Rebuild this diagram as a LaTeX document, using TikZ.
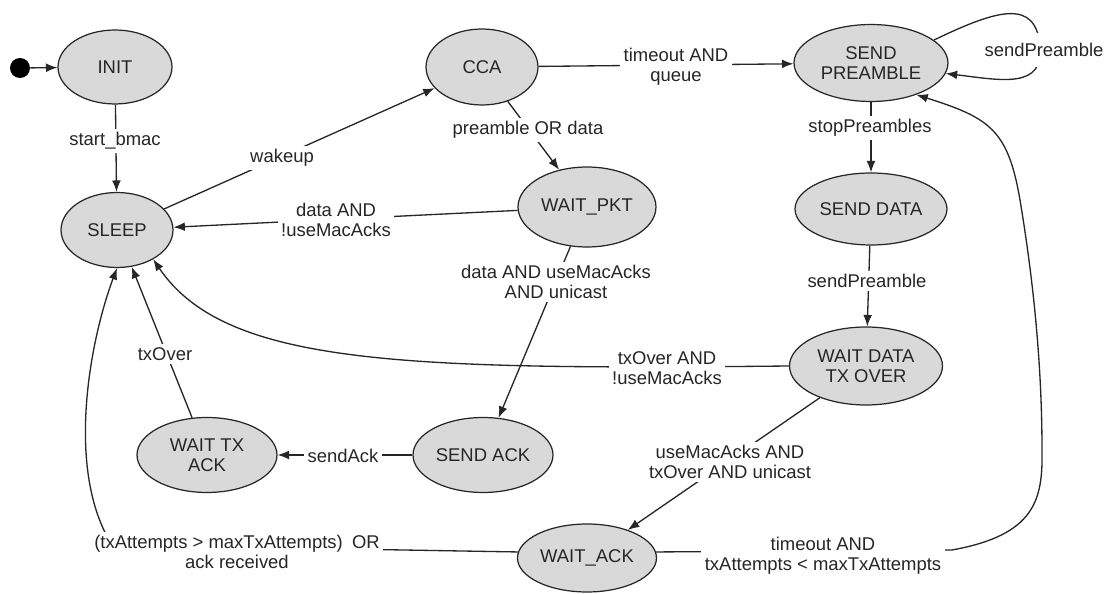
\documentclass[tikz,border=0pt]{standalone}
\usepackage{fontspec}
\setmainfont{Liberation Sans}
\usetikzlibrary{arrows.meta,shapes.geometric}
\definecolor{statefill}{HTML}{D9D9D9}
\definecolor{ink}{HTML}{262626}
\tikzset{
  txt/.style={font=\fontsize{10.5}{11.5}\selectfont, text=ink, align=center},
  state/.style={txt, ellipse, draw=ink, line width=0.7pt, fill=statefill, inner sep=0pt},
  lbl/.style={txt, fill=white, inner xsep=2pt, inner ysep=2pt},
  edge/.style={draw=ink, line width=0.75pt, -{Latex[length=6.5pt,width=5pt]}},
}
\begin{document}
\begin{tikzpicture}[x=0.02cm,y=-0.02cm]
\useasboundingbox (0,0) rectangle (1107,594);
% states
\node[circle, fill=black, minimum size=0.4cm, inner sep=0pt] (dot) at (20,68) {};
\node[state, minimum width=2.28cm, minimum height=1.48cm] (init) at (115,67) {INIT};
\node[state, minimum width=2.24cm, minimum height=1.50cm] (sleep) at (117,230) {SLEEP};
\node[state, minimum width=2.24cm, minimum height=1.52cm] (cca) at (482,67) {CCA};
\node[state, minimum width=2.76cm, minimum height=1.60cm] (wpkt) at (587,207) {WAIT\_PKT};
\node[state, minimum width=3.08cm, minimum height=1.54cm] (sp) at (871,63) {SEND\\PREAMBLE};
\node[state, minimum width=3.04cm, minimum height=1.44cm] (sd) at (871,209) {SEND DATA};
\node[state, minimum width=3.06cm, minimum height=1.56cm] (wdto) at (866,366) {WAIT DATA\\TX OVER};
\node[state, minimum width=2.80cm, minimum height=1.50cm] (sack) at (483,455) {SEND ACK};
\node[state, minimum width=2.80cm, minimum height=1.50cm] (wta) at (207,455) {WAIT TX\\ACK};
\node[state, minimum width=2.78cm, minimum height=1.36cm] (wack) at (587,558) {WAIT\_ACK};
% transitions
\draw[edge] (dot) -- (init);
\draw[edge] (init) -- (sleep);
\draw[edge] (sleep) -- (cca);
\draw[edge] (cca) -- (wpkt);
\draw[edge] (cca) -- (sp);
\draw[edge] (wpkt) -- (sleep);
\draw[edge] (wpkt) -- (sack);
\draw[edge] (sp) -- (sd);
\draw[edge] (sd) -- (wdto);
\draw[edge] (sp.20) .. controls (1000,8) and (1035,0) .. (1040,45) .. controls (1045,90) and (1000,80) .. (sp.-8);
\draw[edge] (wdto.west) .. controls (400,370) and (225,365) .. (sleep.-39);
\draw[edge] (sack) -- (wta);
\draw[edge] (wta) -- (sleep);
\draw[edge] (wdto) -- (wack);
\draw[edge] (wack.175) -- (112,545) .. controls (65,470) and (90,340) .. (sleep.south);
\draw[edge] (wack.5) -- (952,550) .. controls (1035,535) and (1043,500) .. (1042,450)
  .. controls (1042,350) and (1030,260) .. (1020,200)
  .. controls (1008,130) and (990,118) .. (sp.-35);
% labels
\node[lbl] (lstart) at (115,141) {start\_bmac};
\node[lbl] (lwake) at (282,158) {wakeup};
\node[lbl] (lpre) at (528,130) {preamble OR data};
\node[lbl] (ldata) at (336,220) {data AND\\!useMacAcks};
\node[lbl] (ldatauni) at (556,282) {data AND useMacAcks\\AND unicast};
\node[lbl] (ltimeq) at (676,67) {timeout AND\\queue};
\node[lbl, inner ysep=6pt] (lloop) at (1044,50) {sendPreamble};
\node[lbl] (lstop) at (870,128) {stopPreambles};
\node[lbl] (lsendp) at (867,281) {sendPreamble};
\node[lbl] (ltxnoack) at (667,368) {txOver AND\\!useMacAcks};
\node[lbl] (ltxover) at (165,354) {txOver};
\node[lbl] (lsendack) at (343,456) {sendAck};
\node[lbl] (luseack) at (730,462) {useMacAcks AND\\txOver AND unicast};
\node[lbl] (lattempts) at (237,552) {(txAttempts > maxTxAttempts)\enspace OR\\ack received};
\node[lbl] (lretry) at (823,556) {timeout AND\\txAttempts < maxTxAttempts};
\end{tikzpicture}
\end{document}
